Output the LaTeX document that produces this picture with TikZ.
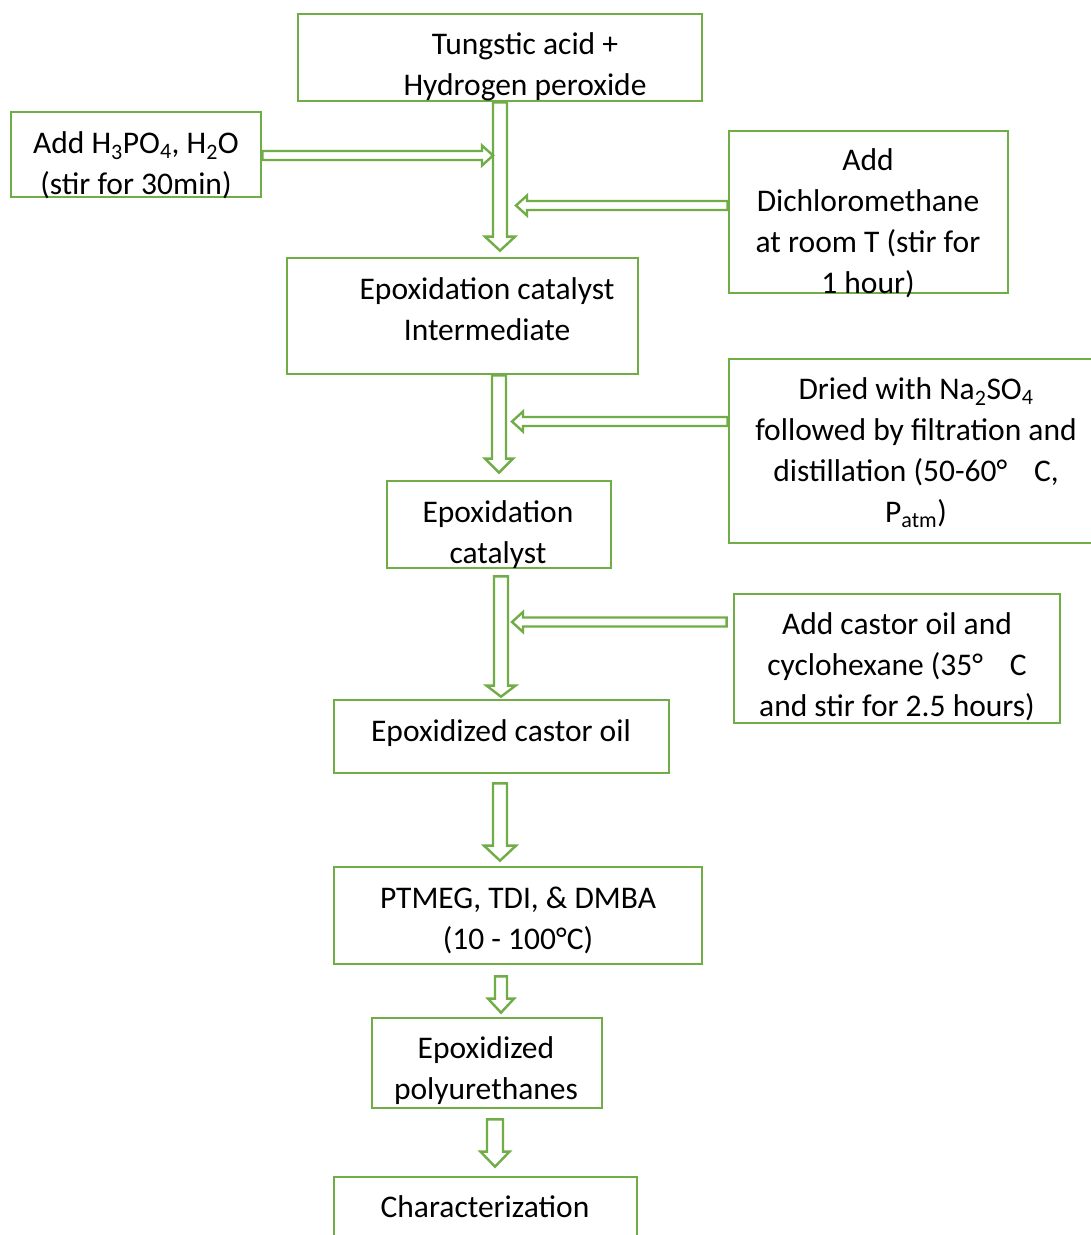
\documentclass[tikz,border=0pt]{standalone}
\usepackage{fontspec}
\setmainfont{Carlito}
\usetikzlibrary{calc}
\definecolor{grn}{HTML}{70AD47}
\newcommand\vblk[5]{%
  \draw[blk] let \p1=#1, \p2=#2 in
    ({\x1-#3pt},\y1) -- ({\x1-#3pt},{\y2+#5pt}) -- ({\x1-#4pt},{\y2+#5pt}) -- (\x1,\y2)
    -- ({\x1+#4pt},{\y2+#5pt}) -- ({\x1+#3pt},{\y2+#5pt}) -- ({\x1+#3pt},\y1) -- cycle;}
\newcommand\hblk[5]{%
  \draw[blk] let \p1=#1, \p2=#2 in
    (\x1,{\y1+#3pt}) -- ({\x2-(#5pt)},{\y1+#3pt}) -- ({\x2-(#5pt)},{\y1+#4pt}) -- (\x2,\y1)
    -- ({\x2-(#5pt)},{\y1-#4pt}) -- ({\x2-(#5pt)},{\y1-#3pt}) -- (\x1,{\y1-#3pt}) -- cycle;}
\begin{document}
\begin{tikzpicture}[x=1pt,y=-1pt,
  box/.style={draw=grn, line width=2.7pt, inner sep=0pt},
  txt/.style={align=center, inner sep=0pt, text=black,
    font=\fontsize{31.5}{41}\selectfont,
    execute at begin node=\strut, execute at end node=\strut},
  blk/.style={draw=grn, line width=2.4pt, fill=white, line join=miter}]
\useasboundingbox (0,0) rectangle (1091,1235);
\clip (0,0) rectangle (1091,1235);
\fill[white] (0,0) rectangle (1091,1235);
% boxes
\node[box, minimum width=404, minimum height=87]  (b1)  at (500,57.5) {};
\node[box, minimum width=250, minimum height=85]  (b2)  at (136,154.5) {};
\node[box, minimum width=279, minimum height=162] (b3)  at (868.5,212) {};
\node[box, minimum width=351, minimum height=116] (b4)  at (462.5,316) {};
\node[box, minimum width=375, minimum height=184] (b5)  at (916.5,451) {};
\node[box, minimum width=224, minimum height=87]  (b6)  at (499,524.5) {};
\node[box, minimum width=326, minimum height=129] (b7)  at (897,658.5) {};
\node[box, minimum width=335, minimum height=73]  (b8)  at (501.5,736.5) {};
\node[box, minimum width=368, minimum height=97]  (b9)  at (518,915.5) {};
\node[box, minimum width=230, minimum height=90]  (b10) at (487,1063) {};
\node[box, minimum width=303, minimum height=73]  (b11) at (485.5,1213.5) {};
% arrow axes
\coordinate (ax1) at (500,0);
\coordinate (ax2) at (499,0);
\coordinate (ax3) at (501,0);
\coordinate (ax4) at (500,0);
\coordinate (ax5) at (501,0);
\coordinate (ax6) at (495,0);
\coordinate (ay1) at (0,155.5);
\coordinate (ay2) at (0,205.5);
\coordinate (ay3) at (0,421.5);
\coordinate (ay4) at (0,622);
\coordinate (tx1) at (493,0);
\coordinate (tx2) at (516,0);
\coordinate (tx3) at (512,0);
\coordinate (tx4) at (512,0);
% vertical arrows
\vblk{(b1.south -| ax1)}{([yshift=6pt]b4.north -| ax1)}{7}{15}{14}
\vblk{(b4.south -| ax2)}{([yshift=7pt]b6.north -| ax2)}{7}{14}{14}
\vblk{([yshift=-7pt]b6.south -| ax3)}{([yshift=2pt]b8.north -| ax3)}{7}{14.5}{11}
\vblk{([yshift=-9pt]b8.south -| ax4)}{([yshift=5pt]b9.north -| ax4)}{7}{16}{15}
\vblk{([yshift=-11pt]b9.south -| ax5)}{([yshift=4pt]b10.north -| ax5)}{6}{13}{14}
\vblk{([yshift=-10pt]b10.south -| ax6)}{([yshift=9pt]b11.north -| ax6)}{8}{14.5}{15}
% horizontal arrows
\hblk{(b2.east |- ay1)}{(tx1 |- ay1)}{4.5}{10}{11}
\hblk{(b3.west |- ay2)}{(tx2 |- ay2)}{4.5}{10}{-11}
\hblk{(b5.west |- ay3)}{(tx3 |- ay3)}{4.5}{10}{-11}
\hblk{([xshift=-6pt]b7.west |- ay4)}{(tx4 |- ay4)}{4.5}{10}{-11}
% texts
\node[txt] (t1)  at (525,70)   {Tungstic acid +\\Hydrogen peroxide};
\node[txt] (t2)  at (136,169)  {Add H\textsubscript{3}PO\textsubscript{4}, H\textsubscript{2}O\\(stir for 30min)};
\node[txt] (t3)  at (868,227)  {Add\\Dichloromethane\\at room T (stir for\\1 hour)};
\node[txt] (t4)  at (487,315)  {Epoxidation catalyst\\Intermediate};
\node[txt] (t5)  at (916,456)  {Dried with Na\textsubscript{2}SO\textsubscript{4}\\followed by filtration and\\distillation (50-60°\hspace{0.85em}C,\\P\textsubscript{atm})};
\node[txt] (t6)  at (498,538)  {Epoxidation\\catalyst};
\node[txt] (t7)  at (897,671)  {Add castor oil and\\cyclohexane (35°\hspace{0.85em}C\\and stir for 2.5 hours)};
\node[txt] (t8)  at (501,733)  {Epoxidized castor oil};
\node[txt] (t9)  at (518,924)  {PTMEG, TDI, \& DMBA\\(10 - 100°C)};
\node[txt] (t10) at (486,1074) {Epoxidized\\polyurethanes};
\node[txt] (t11) at (485,1209) {Characterization};
\end{tikzpicture}
\end{document}
